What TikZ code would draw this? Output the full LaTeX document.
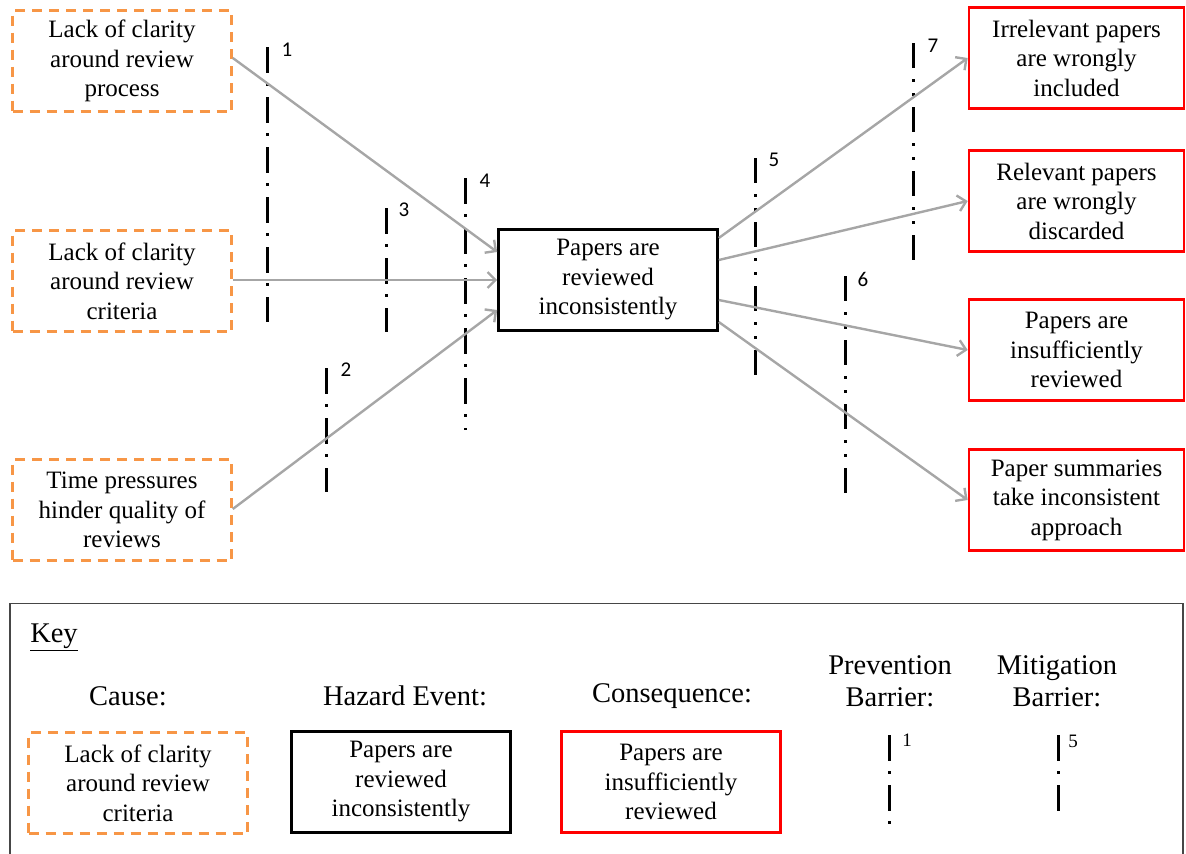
\documentclass[tikz,border=0pt]{standalone}
\usepackage{fontspec}
\setmainfont{Liberation Serif}
\newfontfamily\numfont{Carlito}
\usetikzlibrary{arrows.meta,calc}
\definecolor{causeorange}{RGB}{247,150,70}
\definecolor{arrowgray}{RGB}{166,166,166}
\definecolor{keygray}{RGB}{70,70,70}
\begin{document}
\begin{tikzpicture}[x=1pt,y=-1pt,
  boxbase/.style={font=\fontsize{25}{29.5}\selectfont, align=center, inner sep=0pt,
    minimum width=219pt, minimum height=101pt, line width=2.6pt},
  causebox/.style={boxbase, draw=causeorange, dash pattern=on 10pt off 7pt},
  hazbox/.style={boxbase, draw=black},
  consbox/.style={boxbase, draw=red, minimum width=215pt},
  conn/.style={draw=arrowgray, line width=2.4pt,
    -{Straight Barb[length=8pt,width=16pt]}},
  prevbar/.style={line width=3pt, dash pattern=on 26pt off 10pt on 3pt off 11pt},
  mitbar/.style={line width=3pt, dash pattern=on 25pt off 11pt on 3pt off 11pt on 3pt off 11pt},
  numlab/.style={font=\numfont\fontsize{21}{21}\selectfont, inner sep=0pt},
  keynum/.style={font=\fontsize{19}{19}\selectfont, inner sep=0pt},
  keylab/.style={font=\fontsize{28.5}{32}\selectfont, align=center, inner sep=0pt}
]
\useasboundingbox (0,0) rectangle (1186,854);

% causes
\node[causebox] (c1) at (122,61) {Lack of clarity\\around review\\process};
\node[causebox] (c2) at (122,281) {Lack of clarity\\around review\\criteria};
\node[causebox] (c3) at (122,510) {Time pressures\\hinder quality of\\reviews};

% hazard
\node[hazbox] (h) at (608,280) {Papers are\\reviewed\\inconsistently};

% consequences
\node[consbox] (q1) at (1076.5,58) {Irrelevant papers\\are wrongly\\included};
\node[consbox] (q2) at (1076.5,201) {Relevant papers\\are wrongly\\discarded};
\node[consbox] (q3) at (1076.5,350) {Papers are\\insufficiently\\reviewed};
\node[consbox] (q4) at (1076.5,500) {Paper summaries\\take inconsistent\\approach};

% barriers
\draw[prevbar] (267,47) -- (267,322);
\node[numlab] (b1) at (287,50) {1};
\draw[prevbar] (386,208) -- (386,332);
\node[numlab] (b3) at (404,210) {3};
\draw[prevbar] (465,178) -- (465,430);
\node[numlab] (b4) at (485,181) {4};
\draw[prevbar] (326,368) -- (326,492);
\node[numlab] (b2) at (346,370) {2};
\draw[mitbar] (755,158) -- (755,386);
\node[numlab] (b5) at (774,160) {5};
\draw[mitbar] (913,43) -- (913,270);
\node[numlab] (b7) at (933,46) {7};
\draw[mitbar] (845,276) -- (845,503);
\node[numlab] (b6) at (863,279) {6};

% connectors
\draw[conn] ($(c1.east)+(0,-3)$) -- ($(h.west)+(0,-28)$);
\draw[conn] ($(c2.east)+(0,-1)$) -- (h.west);
\draw[conn] ($(c3.east)+(0,-1)$) -- ($(h.west)+(0,30)$);
\draw[conn] ($(h.east)+(0,-42)$) -- (q1.west);
\draw[conn] ($(h.east)+(0,-20)$) -- (q2.west);
\draw[conn] ($(h.east)+(0,20)$) -- (q3.west);
\draw[conn] ($(h.east)+(0,42)$) -- (q4.west);

% key
\draw[keygray, line width=1.5pt] (10,870) -- (10,603.5) -- (1183,603.5) -- (1183,870);
\node[keylab] (key) at (54,637) {\underline{Key}};
\node[keylab] (kcause) at (128,696) {Cause:};
\node[keylab] (khaz) at (405,696) {Hazard Event:};
\node[keylab] (kcons) at (672,696) {Consequence:};
\node[keylab] (kprev) at (890,681) {Prevention\\Barrier:};
\node[keylab] (kmit) at (1057,681) {Mitigation\\Barrier:};
\node[causebox] (kc) at (138,783) {Lack of clarity\\around review\\criteria};
\node[hazbox] (kh) at (401,782) {Papers are\\reviewed\\inconsistently};
\node[consbox, minimum width=219pt] (kq) at (671,782) {Papers are\\insufficiently\\reviewed};
\draw[prevbar] (889,735) -- (889,825);
\node[keynum] (kn1) at (907,740) {1};
\draw[prevbar] (1058,735) -- (1058,811);
\node[keynum] (kn5) at (1073,741) {5};
\end{tikzpicture}
\end{document}
